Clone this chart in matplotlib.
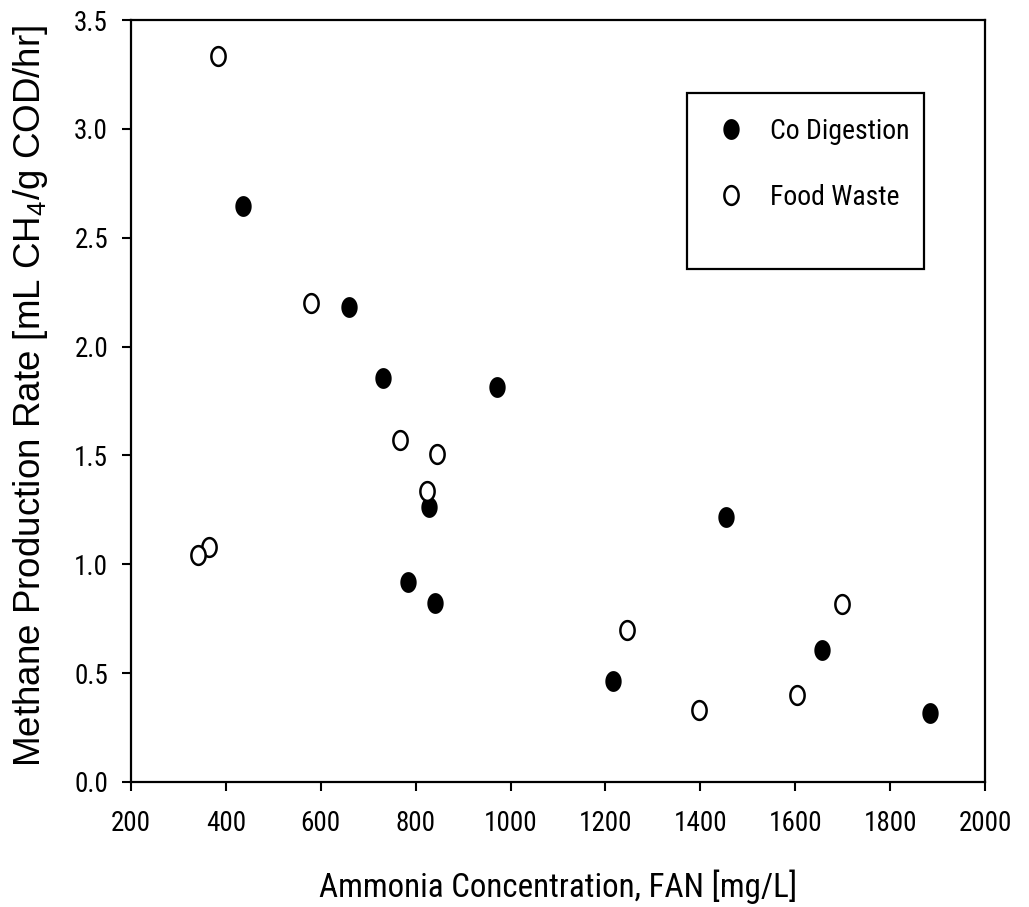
import numpy as np
import matplotlib
matplotlib.use("Agg")
import matplotlib.pyplot as plt
from matplotlib import font_manager
from matplotlib.path import Path
from matplotlib.patches import Rectangle

# ---- data ----
co_x = [435.7, 659.5, 730.6, 972.1, 827.5, 784.5, 841.4, 1216.7, 1453.6, 1656.0, 1884.2]
co_y = [2.644, 2.183, 1.854, 1.813, 1.265, 0.919, 0.821, 0.463, 1.219, 0.606, 0.316]
fw_x = [383.4, 579.4, 767.7, 844.4, 823.3, 364.4, 341.9, 1246.2, 1397.3, 1604.5, 1698.1]
fw_y = [3.335, 2.199, 1.570, 1.507, 1.338, 1.081, 1.041, 0.698, 0.331, 0.401, 0.818]
series_labels = ["Co Digestion", "Food Waste"]
x_ticks = [200, 400, 600, 800, 1000, 1200, 1400, 1600, 1800, 2000]
y_ticks = [0.0, 0.5, 1.0, 1.5, 2.0, 2.5, 3.0, 3.5]
x_label = "Ammonia Concentration, FAN [mg/L]"
y_label = "Methane Production Rate [mL CH$_4$/g COD/hr]"

# ---- fonts ----
names = {f.name for f in font_manager.fontManager.ttflist}
if "Roboto Condensed" in names:
    narrow = "Roboto Condensed"
    k = 1.0
else:
    narrow = "Liberation Sans"
    k = 0.85
plt.rcParams['font.family'] = [narrow, 'Liberation Sans', 'DejaVu Sans']
plt.rcParams['mathtext.fontset'] = 'custom'
plt.rcParams['mathtext.rm'] = 'Liberation Sans'
plt.rcParams['mathtext.it'] = 'Liberation Sans'

# elliptical marker (taller than wide)
t = np.linspace(0, 2 * np.pi, 60)
ell = Path(np.column_stack([0.38 * np.cos(t), 0.5 * np.sin(t)]), closed=True)

fig = plt.figure(figsize=(10.29, 9.07), dpi=100)
ax = fig.add_axes([131 / 1029, 125 / 907, (985 - 131) / 1029, (782 - 20) / 907])

ms = 13.5
ax.plot(co_x, co_y, linestyle='none', marker=ell, ms=ms, mfc='black', mec='black',
        mew=1.5, label=series_labels[0], zorder=3)
ax.plot(fw_x, fw_y, linestyle='none', marker=ell, ms=ms, mfc='white', mec='black',
        mew=1.8, label=series_labels[1], zorder=4)

ax.set_xlim(200, 2000)
ax.set_ylim(0, 3.5)
ax.set_xticks(x_ticks)
ax.set_xticklabels([str(v) for v in x_ticks])
ax.set_yticks(y_ticks)
ax.set_yticklabels([f"{v:.1f}" for v in y_ticks])

for s in ax.spines.values():
    s.set_linewidth(1.6)
ax.tick_params(axis='both', direction='out', length=6.5, width=1.5, labelsize=19.5 * k,
               top=False, right=False)
ax.tick_params(axis='x', pad=14)
ax.tick_params(axis='y', pad=10)

ax.set_xlabel(x_label, fontsize=23.8 * k)
ax.xaxis.set_label_coords(0.5, (782 - 870) / 762)
ax.set_ylabel(y_label, fontsize=26.5, family=['Liberation Sans', 'DejaVu Sans'])
ax.yaxis.set_label_coords((50 - 131) / 854, (782 - 395.5) / 762)

# legend
leg = ax.legend(loc='center left', bbox_to_anchor=(0.6861, 0.8105), frameon=False,
                fontsize=20 * k, borderpad=0, handlelength=1.0, handletextpad=0.91,
                labelspacing=1.4, borderaxespad=0, numpoints=1)
ax.add_patch(Rectangle((0.6507, 0.6728), 0.2782, 0.2318, transform=ax.transAxes,
                       fill=False, edgecolor='black', linewidth=1.6, zorder=5))

fig.savefig("out.png", dpi=100)
